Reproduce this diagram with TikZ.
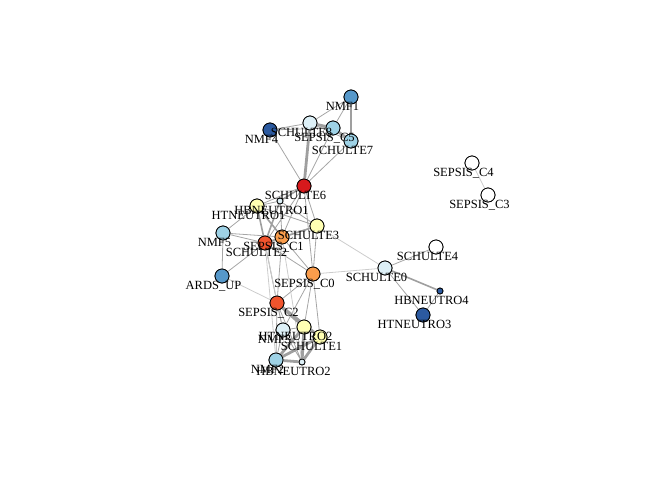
\documentclass[tikz,border=0pt]{standalone}
\usepackage{fontspec}
\setmainfont{Liberation Serif}
\begin{document}
\begin{tikzpicture}[x=1pt,y=-1pt,
  vtx/.style={circle,draw=black,line width=0.8pt,minimum size=14pt,inner sep=0pt},
  svtx/.style={circle,draw=black,line width=0.8pt,minimum size=6pt,inner sep=0pt},
  lbl/.style={anchor=base,inner sep=0pt,font=\fontsize{12.5}{12.5}\selectfont},
  e/.style={draw=gray!70,line width=0.8pt},
  el/.style={draw=gray!40,line width=0.8pt},
  em/.style={draw=gray!75,line width=1.6pt},
  et/.style={draw=gray!75,line width=2.8pt}]
\definecolor{cred}{HTML}{D7191C}
\definecolor{cro}{HTML}{F0542D}
\definecolor{cor}{HTML}{FA9D4C}
\definecolor{cyel}{HTML}{FFFFB3}
\definecolor{cvlb}{HTML}{DDF0F7}
\definecolor{clb}{HTML}{9ED2E6}
\definecolor{cmb}{HTML}{5698CA}
\definecolor{cdb}{HTML}{2C5AA0}
\useasboundingbox (0,0) rectangle (672,480);
% nodes (coordinates first)
\node[vtx,fill=cmb] (NMF1) at (351,97) {};
\node[vtx,fill=cvlb] (S8) at (310,123) {};
\node[vtx,fill=clb] (C5) at (333,128) {};
\node[vtx,fill=clb] (S7) at (351,141) {};
\node[vtx,fill=cdb] (NMF4) at (270,130) {};
\node[vtx,fill=cred] (S6) at (304,186) {};
\node[svtx,fill=cvlb] (HB1) at (280,201) {};
\node[vtx,fill=cyel] (HT1) at (257,206) {};
\node[vtx,fill=cyel] (S3) at (317,226) {};
\node[vtx,fill=clb] (NMF5) at (223,233) {};
\node[vtx,fill=cor] (C1) at (282,237) {};
\node[vtx,fill=cro] (S2) at (265,243) {};
\node[vtx,fill=cmb] (ARDS) at (222,276) {};
\node[vtx,fill=cor] (C0) at (313,274) {};
\node[vtx,fill=cro] (C2) at (277,303) {};
\node[vtx,fill=cvlb] (NMF3) at (283,330) {};
\node[vtx,fill=cyel] (HT2) at (304,327) {};
\node[vtx,fill=cyel] (S1) at (320,337) {};
\node[vtx,fill=clb] (NMF2) at (276,360) {};
\node[svtx,fill=cvlb] (HB2) at (302,362) {};
\node[vtx,fill=white] (C4) at (472,163) {};
\node[vtx,fill=white] (C3) at (488,195) {};
\node[vtx,fill=white] (S4) at (436,247) {};
\node[vtx,fill=cvlb] (S0) at (385,268) {};
\node[svtx,fill=cdb] (HB4) at (440,291) {};
\node[vtx,fill=cdb] (HT3) at (423,315) {};
% edges
\begin{scope}[on background layer/.style={}]
\end{scope}
\path[e] (NMF1) -- (S8) (NMF1) -- (C5) (S8) -- (S7) (NMF4) -- (S8) (NMF4) -- (C5)
  (NMF4) -- (S6) (C5) -- (S6) (S7) -- (S6);
\path[em] (NMF1) -- (S7);
\path[et] (S8) -- (C5) (C5) -- (S7) (S8) -- (S6);
\path[e] (S6) -- (HB1) (S6) -- (HT1) (S6) -- (S3) (S6) -- (C1) (S6) -- (S2) (S6) -- (C0)
  (HT1) -- (HB1) (HT1) -- (S3) (HT1) -- (NMF5) (HB1) -- (S3) (HB1) -- (C1)
  (S3) -- (C1) (S3) -- (C0) (NMF5) -- (S2) (NMF5) -- (C1) (NMF5) -- (ARDS)
  (ARDS) -- (S2) (C1) -- (C0) (S2) -- (C0) (S2) -- (C2) (C1) -- (C2)
  (C0) -- (C2) (C0) -- (HT2) (C0) -- (S1) (C0) -- (NMF3);
\path[el] (ARDS) -- (C2) (S3) -- (S0) (C0) -- (S0) (S2) -- (NMF3) (S2) -- (NMF2) (C1) -- (HB2);
\path[em] (HT1) -- (S2) (HB1) -- (S2) (HT1) -- (C1) (S3) -- (S2) (S6) -- (HB1);
\path[e] (C2) -- (NMF3) (C2) -- (NMF2) (C2) -- (HB2) (NMF3) -- (HT2) (NMF3) -- (NMF2)
  (NMF3) -- (HB2) (HT2) -- (S1);
\path[et] (C2) -- (HT2) (C2) -- (S1) (HT2) -- (HB2) (HT2) -- (NMF2) (S1) -- (HB2)
  (S1) -- (NMF2) (NMF2) -- (HB2);
\path[el] (C4) -- (C3);
\path[e] (S0) -- (S4) (S0) -- (HT3) (HB4) -- (HT3);
\path[em] (S0) -- (HB4);
% redraw nodes on top
\foreach \n/\c in {NMF1/cmb,S8/cvlb,C5/clb,S7/clb,NMF4/cdb,S6/cred,HT1/cyel,S3/cyel,NMF5/clb,C1/cor,S2/cro,ARDS/cmb,C0/cor,C2/cro,NMF3/cvlb,HT2/cyel,S1/cyel,NMF2/clb,C4/white,C3/white,S4/white,S0/cvlb,HT3/cdb}
  \node[vtx,fill=\c] at (\n) {};
\foreach \n/\c in {HB1/cvlb,HB2/cvlb,HB4/cdb}
  \node[svtx,fill=\c] at (\n) {};
% labels
\node[lbl] (lNMF1) at (342.5,110.5) {NMF1};
\node[lbl] (lS8) at (301.5,136.5) {SCHULTE8};
\node[lbl] (lC5) at (324.5,141.5) {SEPSIS\_C5};
\node[lbl] (lS7) at (342.5,154.5) {SCHULTE7};
\node[lbl] (lNMF4) at (261.5,143.5) {NMF4};
\node[lbl] (lS6) at (295.5,199.5) {SCHULTE6};
\node[lbl] (lHB1) at (271.5,214.5) {HBNEUTRO1};
\node[lbl] (lHT1) at (248.5,219.5) {HTNEUTRO1};
\node[lbl] (lS3) at (308.5,239.5) {SCHULTE3};
\node[lbl] (lNMF5) at (214.5,246.5) {NMF5};
\node[lbl] (lC1) at (273.5,250.5) {SEPSIS\_C1};
\node[lbl] (lS2) at (256.5,256.5) {SCHULTE2};
\node[lbl] (lARDS) at (213.5,289.5) {ARDS\_UP};
\node[lbl] (lC0) at (304.5,287.5) {SEPSIS\_C0};
\node[lbl] (lC2) at (268.5,316.5) {SEPSIS\_C2};
\node[lbl] (lNMF3) at (274.5,343.5) {NMF3};
\node[lbl] (lHT2) at (295.5,340.5) {HTNEUTRO2};
\node[lbl] (lS1) at (311.5,350.5) {SCHULTE1};
\node[lbl] (lNMF2) at (267.5,373.5) {NMF2};
\node[lbl] (lHB2) at (293.5,375.5) {HBNEUTRO2};
\node[lbl] (lC4) at (463.5,176.5) {SEPSIS\_C4};
\node[lbl] (lC3) at (479.5,208.5) {SEPSIS\_C3};
\node[lbl] (lS4) at (427.5,260.5) {SCHULTE4};
\node[lbl] (lS0) at (376.5,281.5) {SCHULTE0};
\node[lbl] (lHB4) at (431.5,304.5) {HBNEUTRO4};
\node[lbl] (lHT3) at (414.5,328.5) {HTNEUTRO3};
\end{tikzpicture}
\end{document}
